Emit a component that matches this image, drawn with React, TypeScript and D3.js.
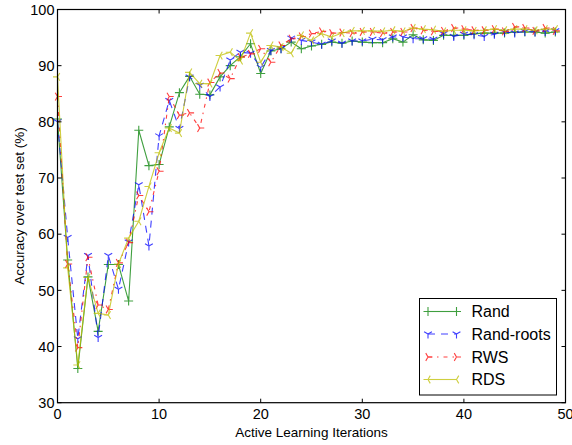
import React, { useEffect, useRef } from "react";
import * as d3 from "d3";

// iterations 0..49
const iterations = d3.range(50);

const randValues = [
  80.5, 55.4, 36.1, 52.4, 42.7, 54.6, 54.6, 48.1, 78.5, 72.2,
  72.4, 79.1, 85.2, 88.1, 84.9, 84.8, 88.0, 90.0, 91.6, 93.9,
  88.6, 92.6, 93.0, 94.2, 93.0, 93.5, 93.8, 94.2, 94.0, 94.4,
  94.2, 94.1, 94.1, 94.8, 94.2, 95.5, 94.6, 94.5, 95.4, 95.4,
  95.4, 95.7, 95.8, 95.8, 95.8, 96.0, 96.0, 96.0, 95.8, 96.0,
];

const randRootsValues = [
  80.0, 59.4, 41.4, 56.2, 41.6, 56.2, 50.2, 58.6, 68.8, 57.9,
  77.5, 83.8, 78.8, 88.0, 86.5, 84.5, 86.2, 91.0, 92.4, 92.2,
  89.7, 92.7, 93.0, 94.9, 94.5, 94.2, 93.8, 94.4, 94.0, 94.4,
  94.4, 94.7, 94.6, 95.1, 95.1, 94.8, 94.8, 94.7, 95.7, 95.2,
  95.6, 95.5, 95.2, 95.6, 96.0, 95.8, 96.1, 96.0, 96.1, 96.2,
];

const rwsValues = [
  84.5, 54.7, 39.8, 55.9, 47.4, 46.6, 54.9, 58.5, 66.9, 64.0,
  71.2, 84.5, 81.2, 81.6, 78.9, 87.0, 88.7, 87.7, 91.5, 92.1,
  93.0, 90.6, 93.6, 94.8, 95.2, 95.7, 96.1, 95.8, 95.9, 95.8,
  96.0, 96.0, 95.8, 96.0, 96.0, 96.7, 96.3, 96.1, 96.2, 96.7,
  96.5, 96.3, 96.3, 96.5, 96.1, 96.9, 96.7, 96.2, 96.7, 96.2,
];

const rdsValues = [
  88.0, 54.0, 36.7, 52.3, 45.9, 45.6, 54.7, 59.3, 62.3, 68.5,
  74.5, 78.9, 78.0, 88.8, 86.8, 86.8, 91.8, 92.4, 90.9, 95.8,
  90.6, 93.6, 93.3, 92.2, 95.4, 94.5, 95.7, 95.1, 95.8, 96.2,
  96.2, 96.2, 96.1, 96.3, 96.1, 96.7, 96.5, 96.4, 96.1, 96.3,
  96.3, 96.2, 96.3, 96.5, 96.3, 96.5, 96.5, 96.3, 96.5, 96.5,
];

const seriesNames = ["Rand", "Rand-roots", "RWS", "RDS"];
const xTicks = [0, 10, 20, 30, 40, 50];
const yTicks = [30, 40, 50, 60, 70, 80, 90, 100];

const FONT = "'Liberation Sans', Arial, Helvetica, sans-serif";

// marker shapes (matplotlib style +, tri_down, tri_right, tri_left)
const markerPath = (kind: string, r: number) => {
  const s = 0.866 * r;
  const h = 0.5 * r;
  if (kind === "plus") return `M${-r},0H${r}M0,${-r}V${r}`;
  if (kind === "tri_down") return `M0,0V${r}M0,0L${-s},${-h}M0,0L${s},${-h}`;
  if (kind === "tri_right") return `M0,0H${r}M0,0L${-h},${-s}M0,0L${-h},${s}`;
  return `M0,0H${-r}M0,0L${h},${-s}M0,0L${h},${s}`;
};

const App = () => {
  const svgRef = useRef<SVGSVGElement>(null);

  useEffect(() => {
    const svg = d3.select(svgRef.current);
    svg.selectAll("*").remove();

    const width = 572;
    const height = 445;
    const left = 57.5;
    const right = 565.5;
    const top = 9.5;
    const bottom = 402.7;

    const x = d3.scaleLinear().domain([0, 50]).range([left, right]);
    const y = d3.scaleLinear().domain([30, 100]).range([bottom, top]);

    svg.attr("width", width).attr("height", height);
    svg.append("rect").attr("width", width).attr("height", height).attr("fill", "white");

    const series = [
      { name: seriesNames[0], values: randValues, color: "#008000", dash: null, marker: "plus" },
      { name: seriesNames[1], values: randRootsValues, color: "#0000ff", dash: "7,6", marker: "tri_down" },
      { name: seriesNames[2], values: rwsValues, color: "#ff0000", dash: "4,5,1.5,5", marker: "tri_right" },
      { name: seriesNames[3], values: rdsValues, color: "#bfbf00", dash: null, marker: "tri_left" },
    ];

    const line = d3
      .line<number>()
      .x((d, i) => x(iterations[i]))
      .y((d) => y(d));

    series.forEach((s) => {
      const g = svg.append("g").attr("opacity", 0.75);
      g.append("path")
        .datum(s.values)
        .attr("fill", "none")
        .attr("stroke", s.color)
        .attr("stroke-width", 1.1)
        .attr("stroke-dasharray", s.dash)
        .attr("d", line);
      g.selectAll("path.mk")
        .data(s.values)
        .join("path")
        .attr("class", "mk")
        .attr("transform", (d, i) => `translate(${x(iterations[i])},${y(d)})`)
        .attr("d", markerPath(s.marker, 4.5))
        .attr("fill", "none")
        .attr("stroke", s.color)
        .attr("stroke-width", 1.1);
    });

    // frame
    svg.append("rect")
      .attr("x", left)
      .attr("y", top)
      .attr("width", right - left)
      .attr("height", bottom - top)
      .attr("fill", "none")
      .attr("stroke", "black")
      .attr("stroke-width", 1.2);

    // ticks (inside, all four sides)
    const tl = 4;
    xTicks.forEach((t) => {
      svg.append("line").attr("x1", x(t)).attr("x2", x(t)).attr("y1", bottom).attr("y2", bottom - tl).attr("stroke", "black");
      svg.append("line").attr("x1", x(t)).attr("x2", x(t)).attr("y1", top).attr("y2", top + tl).attr("stroke", "black");
      svg.append("text")
        .attr("x", x(t))
        .attr("y", 419)
        .attr("text-anchor", "middle")
        .style("font-family", FONT)
        .style("font-size", "14.5px")
        .text(t);
    });
    yTicks.forEach((t) => {
      svg.append("line").attr("x1", left).attr("x2", left + tl).attr("y1", y(t)).attr("y2", y(t)).attr("stroke", "black");
      svg.append("line").attr("x1", right).attr("x2", right - tl).attr("y1", y(t)).attr("y2", y(t)).attr("stroke", "black");
      svg.append("text")
        .attr("x", 54.5)
        .attr("y", y(t))
        .attr("dy", "0.36em")
        .attr("text-anchor", "end")
        .style("font-family", FONT)
        .style("font-size", "14.5px")
        .text(t);
    });

    // axis labels
    svg.append("text")
      .attr("x", (left + right) / 2)
      .attr("y", 436.5)
      .attr("text-anchor", "middle")
      .style("font-family", FONT)
      .style("font-size", "13.5px")
      .text("Active Learning Iterations");
    svg.append("text")
      .attr("transform", `translate(23.5,${(top + bottom) / 2}) rotate(-90)`)
      .attr("text-anchor", "middle")
      .style("font-family", FONT)
      .style("font-size", "13.5px")
      .text("Accuracy over test set (%)");

    // legend
    const lg = svg.append("g");
    lg.append("rect")
      .attr("x", 419.5)
      .attr("y", 298.5)
      .attr("width", 137)
      .attr("height", 96.5)
      .attr("fill", "white")
      .attr("stroke", "black")
      .attr("stroke-width", 1);
    const entryY = [311.5, 334, 357, 379.5];
    series.forEach((s, i) => {
      const g = lg.append("g").attr("opacity", 0.75);
      g.append("line")
        .attr("x1", 428)
        .attr("x2", 456.5)
        .attr("y1", entryY[i])
        .attr("y2", entryY[i])
        .attr("stroke", s.color)
        .attr("stroke-width", 1.1)
        .attr("stroke-dasharray", s.dash);
      [428, 456.5].forEach((mx) => {
        g.append("path")
          .attr("transform", `translate(${mx},${entryY[i]})`)
          .attr("d", markerPath(s.marker, 4.5))
          .attr("fill", "none")
          .attr("stroke", s.color)
          .attr("stroke-width", 1.1);
      });
      lg.append("text")
        .attr("x", 471.5)
        .attr("y", entryY[i])
        .attr("dy", "0.36em")
        .style("font-family", FONT)
        .style("font-size", "16px")
        .text(s.name);
    });
  }, []);

  return <svg ref={svgRef} style={{ position: "absolute", left: 0, top: 0 }} />;
};

export default App;
